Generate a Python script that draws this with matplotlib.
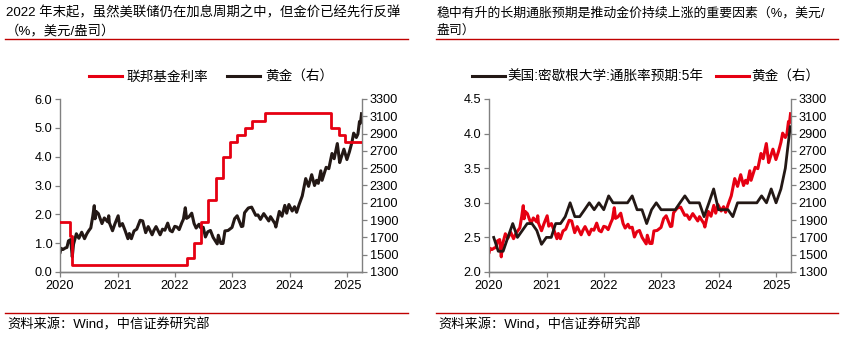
import matplotlib
matplotlib.use("Agg")
import matplotlib.pyplot as plt
import pandas as pd
from matplotlib.lines import Line2D

plt.rcParams['font.family'] = ['Liberation Sans', 'Noto Sans CJK SC', 'DejaVu Sans']

# ---------------- data ----------------
fed_dates = ["2020-01-01", "2020-03-04", "2020-03-16", "2022-03-17", "2022-05-05",
             "2022-06-16", "2022-07-28", "2022-09-22", "2022-11-03", "2022-12-15",
             "2023-02-02", "2023-03-23", "2023-05-04", "2023-07-27", "2024-09-19",
             "2024-11-08", "2024-12-19", "2025-04-03"]
fed_rate = [1.75, 1.25, 0.25, 0.50, 1.00, 1.75, 2.50, 3.25, 4.00, 4.50,
            4.75, 5.00, 5.25, 5.50, 5.00, 4.75, 4.50, 4.50]

gold_dates = [
    "2020-01-02", "2020-01-08", "2020-01-20", "2020-02-03", "2020-02-14", "2020-02-24", "2020-03-09",
    "2020-03-19", "2020-03-27", "2020-04-14", "2020-04-30", "2020-05-18", "2020-06-05", "2020-06-19",
    "2020-07-01", "2020-07-15", "2020-07-27", "2020-08-06", "2020-08-11", "2020-08-18", "2020-09-01",
    "2020-09-24", "2020-10-09", "2020-10-30", "2020-11-06", "2020-11-10", "2020-11-30", "2020-12-16",
    "2021-01-05", "2021-01-15", "2021-02-01", "2021-02-19", "2021-03-08", "2021-03-17", "2021-03-30",
    "2021-04-16", "2021-05-03", "2021-05-25", "2021-06-10", "2021-06-29", "2021-07-15", "2021-08-09",
    "2021-08-20", "2021-09-03", "2021-09-29", "2021-10-14", "2021-10-29", "2021-11-16", "2021-12-01",
    "2021-12-15", "2021-12-31",
    "2022-01-14", "2022-01-28", "2022-02-14", "2022-02-24", "2022-03-08", "2022-03-16", "2022-03-31",
    "2022-04-18", "2022-05-03", "2022-05-16", "2022-06-03", "2022-06-14", "2022-06-30", "2022-07-14",
    "2022-07-29", "2022-08-15", "2022-09-01", "2022-09-27", "2022-10-04", "2022-10-20", "2022-11-03",
    "2022-11-15", "2022-12-05", "2022-12-30",
    "2023-01-16", "2023-02-01", "2023-02-28", "2023-03-09", "2023-03-20", "2023-04-04", "2023-04-13",
    "2023-05-04", "2023-05-30", "2023-06-13", "2023-06-29", "2023-07-20", "2023-08-21", "2023-09-01",
    "2023-09-29", "2023-10-05", "2023-10-27", "2023-11-13", "2023-12-01", "2023-12-13", "2023-12-27",
    "2024-01-17", "2024-02-01", "2024-02-14", "2024-03-01", "2024-03-21", "2024-04-12", "2024-04-30",
    "2024-05-20", "2024-06-07", "2024-06-20", "2024-07-01", "2024-07-17", "2024-07-25", "2024-08-20",
    "2024-09-06", "2024-09-26", "2024-10-10", "2024-10-30", "2024-11-14", "2024-11-25", "2024-12-11",
    "2024-12-30",
    "2025-01-15", "2025-01-31", "2025-02-11", "2025-02-28", "2025-03-10", "2025-03-20", "2025-03-26",
    "2025-04-02"]
gold_price = [
    1528, 1574, 1560, 1577, 1584, 1660, 1675,
    1475, 1620, 1742, 1690, 1760, 1685, 1740,
    1775, 1810, 1940, 2067, 1915, 2000, 1975,
    1860, 1925, 1880, 1950, 1870, 1777, 1860,
    1950, 1830, 1860, 1775, 1685, 1745, 1685,
    1775, 1795, 1898, 1890, 1755, 1825, 1730,
    1780, 1825, 1730, 1795, 1783, 1865, 1780,
    1765, 1828,
    1820, 1790, 1870, 1910, 2043, 1920, 1937,
    1980, 1860, 1808, 1852, 1810, 1817, 1705,
    1765, 1780, 1700, 1625, 1725, 1630, 1630,
    1775, 1780, 1815,
    1917, 1950, 1825, 1830, 1985, 2020, 2040,
    2050, 1955, 1960, 1908, 1975, 1890, 1940,
    1860, 1820, 2000, 1945, 2070, 1980, 2080,
    2005, 2055, 1990, 2080, 2180, 2380, 2290,
    2425, 2300, 2360, 2325, 2470, 2360, 2510,
    2495, 2670, 2610, 2785, 2565, 2630, 2720,
    2600,
    2690, 2800, 2905, 2855, 2895, 3040, 3020,
    3130]

mich_dates = pd.date_range("2020-01-31", "2025-03-31", freq="ME")
mich_5y = [2.5, 2.3, 2.3, 2.5, 2.7, 2.5, 2.6, 2.7, 2.7, 2.6, 2.4, 2.5,
           2.5, 2.7, 2.7, 2.8, 3.0, 2.8, 2.8, 2.9, 3.0, 2.9, 3.0, 2.9,
           3.1, 3.0, 3.0, 3.0, 3.0, 3.1, 2.9, 2.9, 2.7, 2.9, 3.0, 2.9,
           2.9, 2.9, 2.9, 3.0, 3.1, 3.0, 3.0, 3.0, 2.8, 3.0, 3.2, 2.9,
           2.9, 2.9, 2.8, 3.0, 3.0, 3.0, 3.0, 3.0, 3.1, 3.0, 3.2, 3.0,
           3.2, 3.5, 4.1]

years = [2020, 2021, 2022, 2023, 2024, 2025]

left_title = ["2022 年末起，虽然美联储仍在加息周期之中，但金价已经先行反弹", "（%，美元/盎司）"]
right_title = ["稳中有升的长期通胀预期是推动金价持续上涨的重要因素（%，美元/", "盎司）"]
source = "资料来源：Wind，中信证券研究部"

# ---------------- styles ----------------
RED = "#E60012"
BLACK = "#231815"
DARKRED = "#C00000"
GRAY = "#808080"
W, H = 845, 339

fd = pd.to_datetime(fed_dates)
gd = pd.to_datetime(gold_dates)
xmin = pd.Timestamp("2020-01-01")
xmax = pd.Timestamp("2025-04-05")

fig = plt.figure(figsize=(W / 100, H / 100), dpi=100)


def fx(px):
    return px / W


def fy(py):
    return 1 - py / H


def style_axes(ax, ax2):
    for a in (ax, ax2):
        a.spines['top'].set_visible(False)
        for s in ('left', 'right', 'bottom'):
            a.spines[s].set_color(GRAY)
            a.spines[s].set_linewidth(1.0)
        a.tick_params(axis='both', direction='out', length=3.5, width=0.9,
                      color=GRAY, labelsize=9.2, labelcolor='black', pad=2)
    ax2.spines['left'].set_visible(False)
    ax.spines['right'].set_visible(False)
    ax.set_xlim(xmin, xmax)
    ax.set_xticks([pd.Timestamp(f"{y}-01-01") for y in years])
    ax.set_xticklabels([str(y) for y in years])
    ax2.set_ylim(1300, 3300)
    ax2.set_yticks(range(1300, 3301, 200))


# ---------------- left chart ----------------
axL = fig.add_axes([fx(60), fy(272), fx(362 - 60), fy(99) - fy(272)])
axL2 = axL.twinx()
axL.step(fd, fed_rate, where='post', color=RED, lw=2.0, zorder=3)
axL2.plot(gd, gold_price, color=BLACK, lw=2.2, zorder=2)
axL.set_zorder(axL2.get_zorder() + 1)
axL.patch.set_visible(False)
axL.set_ylim(0, 6)
axL.set_yticks([0, 1, 2, 3, 4, 5, 6])
axL.set_yticklabels([f"{v:.1f}" for v in [0, 1, 2, 3, 4, 5, 6]])
style_axes(axL, axL2)

hL = [Line2D([], [], color=RED, lw=2.2), Line2D([], [], color=BLACK, lw=2.2)]
axL.legend(hL, ["联邦基金利率", "黄金（右）"], loc='center', bbox_to_anchor=(0.5, 1.13),
           ncol=2, frameon=False, fontsize=9.8, handlelength=2.4, handletextpad=0.35,
           columnspacing=1.4, borderaxespad=0)

# ---------------- right chart ----------------
axR = fig.add_axes([fx(489), fy(272), fx(791 - 489), fy(99) - fy(272)])
axR2 = axR.twinx()
axR.plot(mich_dates, mich_5y, color=BLACK, lw=2.0, zorder=3)
axR2.plot(gd, gold_price, color=RED, lw=2.2, zorder=2)
axR.set_zorder(axR2.get_zorder() + 1)
axR.patch.set_visible(False)
axR.set_ylim(2.0, 4.5)
rt = [2.0, 2.5, 3.0, 3.5, 4.0, 4.5]
axR.set_yticks(rt)
axR.set_yticklabels([f"{v:.1f}" for v in rt])
style_axes(axR, axR2)

hR = [Line2D([], [], color=BLACK, lw=2.2), Line2D([], [], color=RED, lw=2.2)]
axR.legend(hR, ["美国:密歇根大学:通胀率预期:5年", "黄金（右）"], loc='center',
           bbox_to_anchor=(0.52, 1.13), ncol=2, frameon=False, fontsize=9.8,
           handlelength=2.4, handletextpad=0.2, columnspacing=0.9, borderaxespad=0)

# ---------------- titles, rules, sources ----------------
for x0, x1, lines, fs in ((5, 408, left_title, 9.6), (436, 838, right_title, 9.25)):
    fig.text(fx(x0 + 1), fy(13), lines[0], fontsize=fs, va='center', ha='left')
    fig.text(fx(x0 + 1), fy(31), lines[1], fontsize=fs, va='center', ha='left')
    fig.add_artist(Line2D([fx(x0), fx(x1)], [fy(39), fy(39)], color=DARKRED, lw=1.0,
                          transform=fig.transFigure))
    fig.add_artist(Line2D([fx(x0), fx(x1)], [fy(313), fy(313)], color=DARKRED, lw=1.0,
                          transform=fig.transFigure))
    fig.text(fx(x0 + 2), fy(325), source, fontsize=9.5, va='center', ha='left')

fig.savefig("out.png", dpi=100)
